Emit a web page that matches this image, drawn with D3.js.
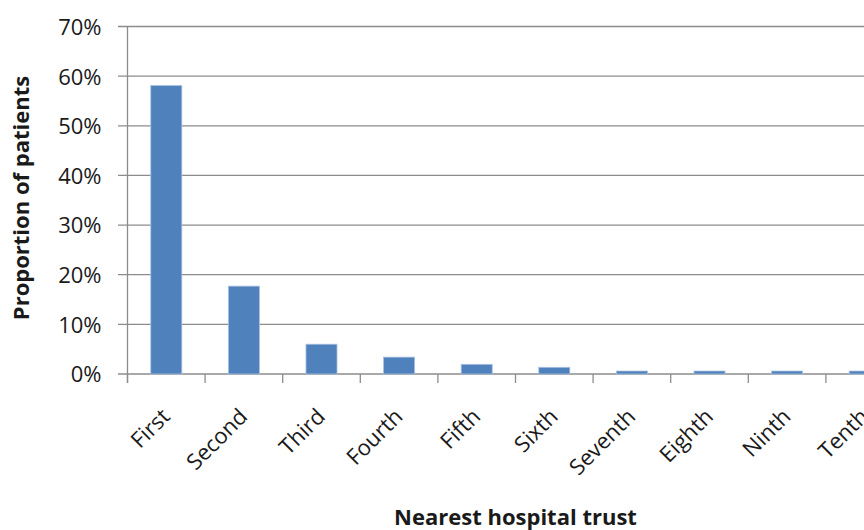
<!DOCTYPE html>
<html>
<head>
<meta charset="utf-8">
<script src="https://cdn.jsdelivr.net/npm/d3@7/dist/d3.min.js"></script>
<style>
  html, body { margin: 0; padding: 0; background: #fff; }
  svg { display: block; }
  text { font-family: "Open Sans", Lato, sans-serif; fill: #1a1a1a; }
</style>
</head>
<body>
<svg id="chart" width="864" height="530"></svg>
<script>
// Share of patients by rank of the hospital trust they attended
const categories = ["First", "Second", "Third", "Fourth", "Fifth", "Sixth", "Seventh", "Eighth", "Ninth", "Tenth"];
const proportions = [0.581, 0.177, 0.060, 0.034, 0.0195, 0.0135, 0.006, 0.006, 0.006, 0.006];
const yTicks = [0, 0.1, 0.2, 0.3, 0.4, 0.5, 0.6, 0.7];

(function () {
  const svg = d3.select("#chart");
  const plotLeft = 127.5, plotTop = 26.5, plotBottom = 374;
  const step = 77.6;
  const plotRight = plotLeft + step * categories.length;
  const labelFont = "22px";

  const x = d3.scaleBand()
    .domain(categories)
    .range([plotLeft, plotRight])
    .paddingInner(0.6)
    .paddingOuter(0.3);

  const y = d3.scaleLinear().domain([0, 0.7]).range([plotBottom, plotTop]);

  const gridColor = "#8c8c8c";

  // horizontal gridlines with their outward tick marks
  svg.append("g")
    .selectAll("line")
    .data(yTicks)
    .join("line")
    .attr("x1", plotLeft - 9.5)
    .attr("x2", 864)
    .attr("y1", d => y(d))
    .attr("y2", d => y(d))
    .attr("stroke", gridColor)
    .attr("stroke-width", 1.3);

  // y axis labels
  const yAxis = d3.axisLeft(y)
    .tickValues(yTicks)
    .tickFormat(d3.format(".0%"))
    .tickSize(0)
    .tickPadding(26);
  const gy = svg.append("g").attr("transform", `translate(${plotLeft},0)`).call(yAxis);
  gy.select(".domain").remove();
  gy.selectAll("text")
    .style("font-size", labelFont)
    .style("font-family", "'Open Sans', Lato, sans-serif")
    .attr("fill", "#1a1a1a")
    .attr("dy", "0.36em");

  // bars
  svg.append("g")
    .selectAll("rect")
    .data(categories.map((c, i) => ({ c, v: proportions[i] })))
    .join("rect")
    .attr("x", d => x(d.c))
    .attr("y", d => y(d.v))
    .attr("width", x.bandwidth())
    .attr("height", d => y(0) - y(d.v))
    .attr("fill", "#4f81bd")
    .attr("stroke", "#a9c1e0")
    .attr("stroke-width", 0.8);

  // vertical axis line
  svg.append("line")
    .attr("x1", plotLeft).attr("x2", plotLeft)
    .attr("y1", plotTop).attr("y2", plotBottom + 9)
    .attr("stroke", gridColor).attr("stroke-width", 1.3);

  // category boundary ticks
  svg.append("g")
    .selectAll("line")
    .data(d3.range(categories.length + 1))
    .join("line")
    .attr("x1", i => plotLeft + i * x.step())
    .attr("x2", i => plotLeft + i * x.step())
    .attr("y1", plotBottom)
    .attr("y2", plotBottom + 9)
    .attr("stroke", gridColor)
    .attr("stroke-width", 1.3);

  // category labels, rotated
  const xAxis = d3.axisBottom(x).tickSize(0).tickPadding(0);
  const gx = svg.append("g").attr("transform", `translate(0,${plotBottom})`).call(xAxis);
  gx.select(".domain").remove();
  gx.selectAll("text")
    .style("font-size", labelFont)
    .style("font-family", "'Open Sans', Lato, sans-serif")
    .attr("fill", "#1a1a1a")
    .attr("text-anchor", "end")
    .attr("dy", null)
    .attr("y", 0)
    .attr("transform", "translate(5,44) rotate(-45)");

  // axis titles
  svg.append("text")
    .attr("x", (plotLeft + plotRight) / 2)
    .attr("y", 524.5)
    .attr("text-anchor", "middle")
    .style("font-size", "22px")
    .style("font-weight", "bold")
    .text("Nearest hospital trust");

  svg.append("text")
    .attr("transform", `translate(29,198) rotate(-90)`)
    .attr("text-anchor", "middle")
    .style("font-size", "22px")
    .style("font-weight", "bold")
    .text("Proportion of patients");
})();
</script>
</body>
</html>
